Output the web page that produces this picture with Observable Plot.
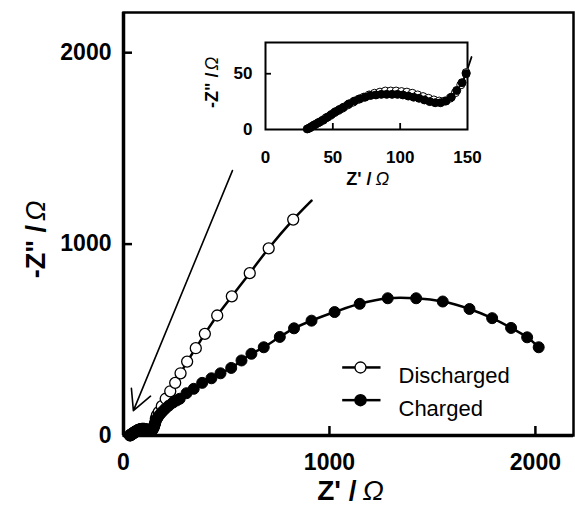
<!DOCTYPE html>
<html><head><meta charset="utf-8">
<script src="https://cdn.jsdelivr.net/npm/d3@7"></script>
<script src="https://cdn.jsdelivr.net/npm/@observablehq/plot@0.6"></script>
<style>
body{margin:0;background:#fff;}
#wrap{position:relative;width:575px;height:512px;background:#fff;}
#main{position:absolute;left:0;top:0;}
#inset{position:absolute;left:195px;top:30px;}
</style></head><body><div id="wrap"><div id="main"></div><div id="inset"></div></div>
<script>
// ---- data (Z' and -Z'' in ohm) ----
const dischargedZre = [32,34,36,39,42,45,48,51,54,57,61,65,69,73,77,81,85,89,93,97,101,105,109,113,117,121,125,129,133,137,141,145,149,
  153,157,162,171,186,205,227,251,277,309,351,395,455,526,613,705,824];
const dischargedZim = [1,2.5,4,6,8,10.5,12.5,15,17,19,22,24.5,27,29,31,32.5,33.5,34.5,34.5,34.5,34,33.5,32.5,31,29.5,28,26.5,25.5,25.5,28,33,40,51,
  65,88,105,122,153,192,231,275,325,386,456,531,627,727,848,978,1128];
const dischargedTailZre = [913];
const dischargedTailZim = [1227];

const chargedZre = [31,33,35,37,40,43,46,49,52,55,58,62,66,70,74,78,82,86,90,94,98,102,106,110,114,118,122,126,130,134,138,142,146,149,
  153,158,165,175,188,203,220,240,258,273,306,341,382,427,471,523,573,621,681,759,828,913,1025,1147,1283,1421,1550,1680,1790,1882,1960,2016];
const chargedZim = [0.5,1.5,3,4.5,6.5,8.5,11,13.5,16,18,20,23,25.5,27.5,29,30.5,31,31.5,31.5,31.5,31.5,31,30,29,28,26.5,25,24,24,25.5,29,35,42,50,
  62,78,92,108,124,140,156,172,183,192,221,244,275,299,325,353,392,427,461,515,560,600,645,688,717,717,700,661,613,562,513,461];

const mainXTicks = [0, 1000, 2000];
const mainYTicks = [0, 1000, 2000];
const insetXTicks = [0, 50, 100, 150];
const insetYTicks = [0, 50];
const seriesNames = ["Discharged", "Charged"];
const arrowFrom = [529, 1384];
const arrowTo = [48, 130];

// ---- tables ----
const discharged = dischargedZre.map((x, i) => ({x, y: dischargedZim[i]}));
const dischargedLine = discharged.concat(dischargedTailZre.map((x, i) => ({x, y: dischargedTailZim[i]})));
const charged = chargedZre.map((x, i) => ({x, y: chargedZim[i]}));
const arrowRows = [{x1: arrowFrom[0], y1: arrowFrom[1], x2: arrowTo[0], y2: arrowTo[1]}];

const font = "'Liberation Sans', Arial, Helvetica, sans-serif";
const id = d => d;
const fmt = d => String(d);

const main = Plot.plot({
  width: 575, height: 512,
  marginLeft: 123, marginRight: 2, marginTop: 12, marginBottom: 77,
  x: {domain: [0, 2185]}, y: {domain: [0, 2210]},
  style: {fontFamily: font, background: "transparent", color: "black"},
  marks: [
    Plot.frame({strokeWidth: 2.5}),
    Plot.ruleX([0], {strokeWidth: 3.5}),
    Plot.ruleY([0], {strokeWidth: 3.5}),
    Plot.tickX(mainXTicks.filter(d => d > 0), {x: id, insetTop: 414, strokeWidth: 2.5}),
    Plot.tickY(mainYTicks.filter(d => d > 0), {y: id, insetRight: 441, strokeWidth: 2.5}),
    Plot.axisX(mainXTicks, {tickSize: 0, tickPadding: 18, tickFormat: fmt, fontSize: 23, fontWeight: "bold", label: null}),
    Plot.axisY(mainYTicks, {tickSize: 0, tickPadding: 12, tickFormat: fmt, fontSize: 23, fontWeight: "bold", label: null}),
    Plot.arrow(arrowRows, {x1: "x1", y1: "y1", x2: "x2", y2: "y2", headLength: 21, headAngle: 55, strokeWidth: 1.6}),
    Plot.line(dischargedLine, {x: "x", y: "y", curve: "catmull-rom", strokeWidth: 2.5}),
    Plot.dot(discharged, {x: "x", y: "y", r: 5.5, fill: "white", stroke: "black", strokeWidth: 1.3}),
    Plot.line(charged, {x: "x", y: "y", curve: "catmull-rom", strokeWidth: 2.5}),
    Plot.dot(charged, {x: "x", y: "y", r: 5.5, fill: "black", stroke: "black", strokeWidth: 1}),
    // legend
    Plot.frame({fill: "black", stroke: null, insetLeft: 218.7, insetRight: 193, insetTop: 353.7, insetBottom: 66.8}),
    Plot.frame({fill: "black", stroke: null, insetLeft: 218.7, insetRight: 193, insetTop: 386.4, insetBottom: 34.1}),
    Plot.dot([seriesNames[0]], {frameAnchor: "top-left", dx: 237, dy: 355, r: 5.5, fill: "white", stroke: "black", strokeWidth: 1.3}),
    Plot.dot([seriesNames[1]], {frameAnchor: "top-left", dx: 237, dy: 387.7, r: 5.5, fill: "black", stroke: "black"}),
    Plot.text([seriesNames[0]], {text: id, frameAnchor: "top-left", dx: 275, dy: 355, textAnchor: "start", fontSize: 22}),
    Plot.text([seriesNames[1]], {text: id, frameAnchor: "top-left", dx: 275, dy: 387.7, textAnchor: "start", fontSize: 22}),
    // axis titles
    Plot.text(["Z' /"], {text: id, frameAnchor: "bottom", textAnchor: "end", dx: 8, dy: 64, fontSize: 28, fontWeight: "bold"}),
    Plot.text(["Ω"], {text: id, frameAnchor: "bottom", textAnchor: "start", dx: 14, dy: 64, fontSize: 28, fontStyle: "italic"}),
    Plot.text(['-Z" /'], {text: id, frameAnchor: "left", rotate: -90, textAnchor: "end", dx: -87, dy: 1, fontSize: 27, fontWeight: "bold"}),
    Plot.text(["Ω"], {text: id, frameAnchor: "left", rotate: -90, textAnchor: "start", dx: -87, dy: -3, fontSize: 27, fontStyle: "italic"})
  ]
});
document.getElementById("main").appendChild(main);

const inset = Plot.plot({
  width: 297, height: 165,
  marginLeft: 70, marginRight: 25, marginTop: 12, marginBottom: 66,
  x: {domain: [0, 150]}, y: {domain: [0, 78]},
  style: {fontFamily: font, background: "transparent", color: "black", overflow: "visible"},
  marks: [
    Plot.frame({strokeWidth: 2}),
    Plot.tickX(insetXTicks.filter(d => d > 0 && d < 150), {x: id, insetTop: 81, strokeWidth: 1.8}),
    Plot.tickY(insetYTicks.filter(d => d > 0), {y: id, insetRight: 196, strokeWidth: 1.8}),
    Plot.axisX(insetXTicks, {tickSize: 0, tickPadding: 21, tickFormat: fmt, fontSize: 17, fontWeight: "bold", label: null}),
    Plot.axisY(insetYTicks, {tickSize: 0, tickPadding: 13, tickFormat: fmt, fontSize: 17, fontWeight: "bold", label: null}),
    Plot.line(discharged.filter(d => d.x <= 154), {x: "x", y: "y", curve: "catmull-rom", strokeWidth: 1.8}),
    Plot.dot(discharged.filter(d => d.x <= 150), {x: "x", y: "y", r: 4, fill: "white", stroke: "black", strokeWidth: 1}),
    Plot.line(charged.filter(d => d.x <= 150), {x: "x", y: "y", curve: "catmull-rom", strokeWidth: 1.8}),
    Plot.dot(charged.filter(d => d.x <= 150), {x: "x", y: "y", r: 4, fill: "black", stroke: "black", strokeWidth: 1}),
    Plot.text(["Z' /"], {text: id, frameAnchor: "bottom", textAnchor: "end", dx: 5, dy: 55, fontSize: 18, fontWeight: "bold"}),
    Plot.text(["Ω"], {text: id, frameAnchor: "bottom", textAnchor: "start", dx: 9, dy: 55, fontSize: 18, fontStyle: "italic"}),
    Plot.text(['-Z" /'], {text: id, frameAnchor: "left", rotate: -90, textAnchor: "end", dx: -53, dy: -13.5, fontSize: 18, fontWeight: "bold"}),
    Plot.text(["Ω"], {text: id, frameAnchor: "left", rotate: -90, textAnchor: "start", dx: -53, dy: -15.5, fontSize: 18, fontStyle: "italic"})
  ]
});
document.getElementById("inset").appendChild(inset);
</script></body></html>
